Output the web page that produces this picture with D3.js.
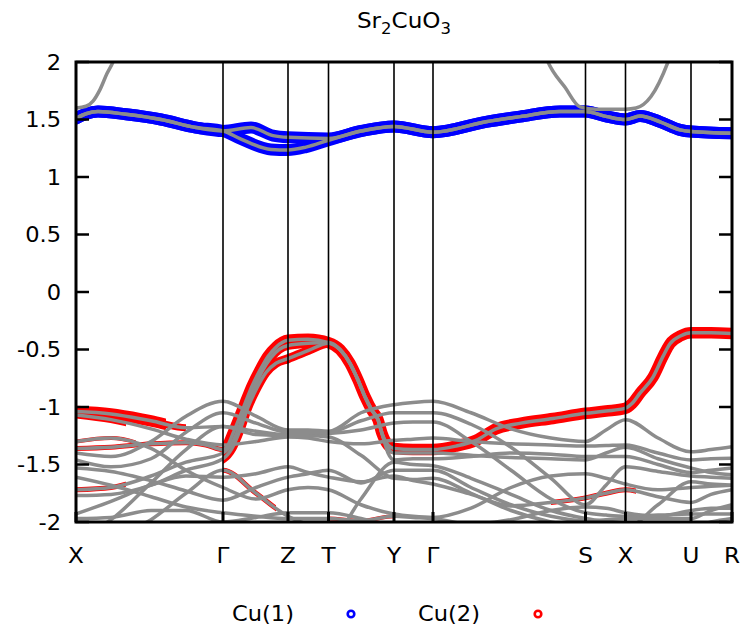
<!DOCTYPE html>
<html><head><meta charset="utf-8">
<script src="https://cdn.jsdelivr.net/npm/d3@7"></script>
<style>body{margin:0;background:#fff}svg{display:block}</style>
</head><body><svg id="c" width="741" height="630"></svg>
<script>
// ---- data ----
const kTicks  = [0, 1.47, 2.12, 2.525, 3.18, 3.57, 5.095, 5.495, 6.15, 6.56];
const kLabels = ["X", "Γ", "Z", "T", "Y", "Γ", "S", "X", "U", "R"];
const yTicks  = [-2, -1.5, -1, -0.5, 0, 0.5, 1, 1.5, 2];
const yTickLabels = ["-2", "-1.5", "-1", "-0.5", "0", "0.5", "1", "1.5", "2"];
const seriesNames = ["Cu(1)", "Cu(2)"];

// common k grid for the lower valence bands
const kGrid = [0,0.35,0.75,1.1,1.47,1.8,2.12,2.32,2.525,2.85,3.18,3.37,3.57,3.95,4.35,4.75,5.095,5.3,5.495,5.82,6.15,6.35,6.56];
const bandR1a = [-1.04,-1.06,-1.12,-1.18,-1.17,-1.21,-1.24,-1.235,-1.23,-1.20,-1.14,-1.13,-1.13,-1.30,-1.55,-1.80,-1.92,-1.94,-1.95,-1.94,-1.93,-1.93,-1.93];
const bandR1b = [-1.07,-1.11,-1.19,-1.28,-1.33,-1.30,-1.26,-1.27,-1.30,-1.32,-1.29,-1.28,-1.27,-1.30,-1.32,-1.33,-1.34,-1.335,-1.33,-1.40,-1.46,-1.45,-1.446];
const band4   = [-1.40,-1.43,-1.30,-1.08,-0.95,-1.08,-1.20,-1.20,-1.21,-1.05,-0.98,-0.96,-0.95,-1.05,-1.19,-1.27,-1.30,-1.20,-1.11,-1.27,-1.39,-1.37,-1.345];
const band5   = [-1.46,-1.52,-1.45,-1.22,-1.05,-1.14,-1.22,-1.22,-1.22,-1.12,-1.05,-1.05,-1.05,-1.15,-1.35,-1.62,-1.85,-1.68,-1.52,-1.56,-1.60,-1.61,-1.62];
const band6   = [-1.53,-1.56,-1.64,-1.73,-1.81,-1.70,-1.61,-1.58,-1.55,-1.66,-1.55,-1.55,-1.55,-1.70,-1.85,-1.95,-1.99,-1.98,-1.97,-1.97,-1.97,-1.90,-1.85];
const band7   = [-1.61,-1.68,-1.78,-1.87,-1.92,-1.95,-1.97,-1.97,-1.97,-1.99,-1.95,-1.96,-1.97,-2.02,-1.98,-1.90,-1.87,-1.88,-1.92,-1.95,-1.90,-1.88,-1.88];
const band10  = [-1.93,-1.82,-1.68,-1.60,-1.61,-1.58,-1.52,-1.57,-1.61,-1.65,-1.60,-1.64,-1.67,-1.76,-1.86,-1.83,-1.79,-1.75,-1.72,-1.78,-1.83,-1.76,-1.72];
const band11  = [-1.97,-1.96,-1.90,-1.90,-2.00,-1.96,-1.92,-1.92,-1.92,-1.97,-2.05,-2.10,-2.15,-2.20,-2.25,-2.25,-2.20,-2.22,-2.25,-2.22,-2.20,-2.20,-2.20];
const band12  = [-2.30,-2.15,-1.98,-1.75,-1.55,-1.75,-1.95,-2.02,-2.05,-2.15,-2.25,-2.30,-2.30,-2.30,-2.25,-2.20,-2.20,-2.22,-2.25,-2.25,-2.25,-2.25,-2.25];
const band13  = [-2.20,-2.20,-2.18,-2.20,-2.25,-2.30,-2.30,-2.25,-2.20,-1.80,-1.48,-1.50,-1.51,-1.62,-1.76,-1.90,-1.97,-2.00,-2.05,-1.85,-1.65,-1.67,-1.68];
const band14  = [-2.15,-1.98,-1.66,-1.37,-1.17,-1.24,-1.25,-1.25,-1.26,-1.42,-1.62,-1.63,-1.62,-1.75,-1.90,-2.00,-2.05,-2.08,-2.10,-2.07,-2.05,-2.00,-1.97];
const band15  = [-1.30,-1.27,-1.36,-1.55,-1.70,-1.80,-1.72,-1.70,-1.72,-1.85,-1.93,-1.95,-1.96,-1.88,-1.70,-1.60,-1.58,-1.62,-1.67,-1.72,-1.70,-1.69,-1.68];

// bands with their own k nodes  [k, E]
const bandH1 = [[0,-1.36],[0.35,-1.35],[0.75,-1.32],[1.1,-1.31],[1.3,-1.33],[1.47,-1.37],[1.51,-1.345],[1.57,-1.23],[1.64,-1.08],[1.69,-0.97],[1.76,-0.82],[1.84,-0.68],[1.92,-0.56],[2.0,-0.48],[2.12,-0.42],[2.32,-0.41],[2.525,-0.44],[2.64,-0.50],[2.74,-0.62],[2.82,-0.765],[2.89,-0.91],[2.96,-1.03],[3.02,-1.11],[3.06,-1.23],[3.12,-1.33],[3.18,-1.36],[3.37,-1.37],[3.57,-1.37],[3.8,-1.34],[4.0,-1.29],[4.2,-1.19],[4.45,-1.14],[4.77,-1.10],[5.095,-1.055],[5.3,-1.035],[5.495,-1.01],[5.56,-0.97],[5.64,-0.88],[5.77,-0.74],[5.87,-0.56],[5.94,-0.45],[6.05,-0.38],[6.15,-0.355],[6.35,-0.355],[6.56,-0.36]];
const bandH2 = [[0,-1.72],[0.35,-1.70],[0.75,-1.60],[1.1,-1.48],[1.47,-1.40],[1.55,-1.33],[1.62,-1.2],[1.7,-1.0],[1.78,-0.84],[1.86,-0.69],[1.95,-0.57],[2.03,-0.50],[2.12,-0.465],[2.32,-0.445],[2.525,-0.44],[2.64,-0.50],[2.74,-0.62],[2.82,-0.765],[2.89,-0.91],[2.96,-1.03],[3.02,-1.11],[3.06,-1.23],[3.12,-1.36],[3.18,-1.40],[3.37,-1.40],[3.57,-1.40],[3.95,-1.42],[4.35,-1.44],[4.75,-1.45],[5.095,-1.46],[5.3,-1.40],[5.495,-1.35],[5.82,-1.45],[6.15,-1.53],[6.35,-1.57],[6.56,-1.59]];
const bandH3 = [[0,-1.77],[0.35,-1.76],[0.75,-1.68],[1.1,-1.55],[1.47,-1.45],[1.56,-1.36],[1.64,-1.2],[1.72,-1.0],[1.8,-0.85],[1.9,-0.7],[2.0,-0.62],[2.12,-0.58],[2.32,-0.51],[2.525,-0.445],[2.64,-0.50],[2.74,-0.62],[2.82,-0.765],[2.89,-0.91],[2.96,-1.03],[3.02,-1.11],[3.06,-1.23],[3.12,-1.40],[3.18,-1.46],[3.37,-1.45],[3.57,-1.45],[3.95,-1.43],[4.35,-1.40],[4.75,-1.41],[5.095,-1.43],[5.3,-1.43],[5.495,-1.43],[5.82,-1.50],[6.15,-1.57],[6.35,-1.55],[6.56,-1.53]];
const bandB1 = [[0,1.51],[0.1,1.55],[0.22,1.57],[0.5,1.545],[0.85,1.50],[1.2,1.43],[1.47,1.40],[1.75,1.43],[1.97,1.36],[2.12,1.345],[2.525,1.335],[2.85,1.40],[3.18,1.44],[3.57,1.39],[4.1,1.48],[4.44,1.525],[4.84,1.57],[5.095,1.57],[5.31,1.525],[5.495,1.50],[5.64,1.53],[5.84,1.48],[6.04,1.41],[6.15,1.395],[6.56,1.38]];
const bandB2 = [[0,1.51],[0.1,1.55],[0.22,1.57],[0.5,1.545],[0.85,1.50],[1.2,1.43],[1.47,1.40],[1.65,1.33],[1.95,1.24],[2.12,1.235],[2.3,1.26],[2.525,1.32],[2.85,1.40],[3.18,1.44],[3.57,1.39],[4.1,1.48],[4.44,1.525],[4.84,1.57],[5.095,1.57],[5.31,1.525],[5.495,1.50],[5.64,1.53],[5.84,1.48],[6.04,1.41],[6.15,1.395],[6.56,1.38]];
const bandU1 = [[0,1.60],[0.1,1.615],[0.17,1.66],[0.24,1.76],[0.31,1.90],[0.37,2.0],[0.5,2.35]];
const bandU2 = [[4.55,2.45],[4.72,2.0],[4.89,1.78],[5.04,1.61],[5.2,1.59],[5.495,1.59],[5.6,1.60],[5.75,1.70],[5.92,2.0],[6.1,2.5]];

// orbital-weight highlights: [band, kFrom, kTo, weight]
const cu1Weights = [["B1",0,6.56,12],["B2",0,6.56,12]];
const cu2Weights = [["H1",1.47,6.56,11.5],["H1",0,1.47,5],["H2",1.47,2.525,9],["H3",1.47,2.525,9],
  ["R1a",0,0.9,11.5],["R1a",0.9,1.1,7],["R1b",0,0.5,7],["H2",0,0.5,5],["b12",1.47,2.0,5],["b7",2.525,3.18,4],["b10",4.75,5.6,5],["b15",0,0.6,4]];

// ---- build ----
const gridBands = {R1a:bandR1a,R1b:bandR1b,b4:band4,b5:band5,b6:band6,b7:band7,b10:band10,b11:band11,b12:band12,b13:band13,b14:band14,b15:band15};
const bands = {};
Object.entries(gridBands).forEach(([n,v]) => bands[n] = kGrid.map((k,i)=>[k,v[i]]));
Object.assign(bands,{H1:bandH1,H2:bandH2,H3:bandH3,B1:bandB1,B2:bandB2,U1:bandU1,U2:bandU2});

const W=741,H=630, L=76, R=732, T=62, B=522;
const x = d3.scaleLinear().domain([0,6.56]).range([L,R]);
const y = d3.scaleLinear().domain([-2,2]).range([B,T]);
const svg = d3.select("#c");
const FONT = "DejaVu Sans";
const line = d3.line().x(d=>x(d[0])).y(d=>y(d[1])).curve(d3.curveMonotoneX);

const defs = svg.append("defs");
defs.append("clipPath").attr("id","plot").append("rect").attr("x",L).attr("y",T).attr("width",R-L).attr("height",B-T);
const plot = svg.append("g").attr("clip-path","url(#plot)");

function drawWeights(list, color, prefix){
  list.forEach((w,i)=>{
    const id = prefix+i;
    defs.append("clipPath").attr("id",id).append("rect")
      .attr("x",x(w[1])).attr("y",0).attr("width",x(w[2])-x(w[1])).attr("height",H);
    plot.append("g").attr("clip-path",`url(#${id})`).append("path")
      .attr("d",line(bands[w[0]])).attr("fill","none").attr("stroke",color)
      .attr("stroke-width",w[3]).attr("stroke-linejoin","round").attr("stroke-linecap","round");
  });
}
drawWeights(cu1Weights,"#0000ff","cu1w");
drawWeights(cu2Weights,"#ff0000","cu2w");

Object.keys(bands).forEach(n=>{
  plot.append("path").attr("d",line(bands[n])).attr("fill","none")
    .attr("stroke","#8c8c8c").attr("stroke-width",3.5).attr("stroke-linejoin","round");
});

// vertical high-symmetry lines
svg.append("g").selectAll("line").data(kTicks.slice(1,-1)).join("line")
  .attr("x1",d=>x(d)).attr("x2",d=>x(d)).attr("y1",T).attr("y2",B)
  .attr("stroke","#000").attr("stroke-width",1.6);
// bottom ticks
svg.append("g").selectAll("line").data(kTicks).join("line")
  .attr("x1",d=>x(d)).attr("x2",d=>x(d)).attr("y1",B).attr("y2",B-10)
  .attr("stroke","#000").attr("stroke-width",3);
// y ticks both sides
svg.append("g").selectAll("line").data(yTicks).join("line")
  .attr("x1",L).attr("x2",L+13).attr("y1",d=>y(d)).attr("y2",d=>y(d)).attr("stroke","#000").attr("stroke-width",2.5);
svg.append("g").selectAll("line").data(yTicks).join("line")
  .attr("x1",R-13).attr("x2",R).attr("y1",d=>y(d)).attr("y2",d=>y(d)).attr("stroke","#000").attr("stroke-width",2.5);
// border
svg.append("rect").attr("x",L).attr("y",T).attr("width",R-L).attr("height",B-T)
  .attr("fill","none").attr("stroke","#000").attr("stroke-width",3);

function txt(px,py,str,anchor,size){
  return svg.append("text").attr("transform",`translate(${px},${py}) scale(1.1,1)`)
    .attr("text-anchor",anchor).style("font-family",FONT).style("font-size",size+"px")
    .attr("fill","#000").text(str);
}
yTicks.forEach((t,i)=>txt(61,y(t)+7.5,yTickLabels[i],"end",20.5));
kTicks.forEach((k,i)=>txt(x(k),563,kLabels[i],"middle",21));

// title
const tt = svg.append("text").attr("transform","translate(404,28) scale(1.1,1)").attr("text-anchor","middle")
  .style("font-family",FONT).style("font-size","21px");
tt.append("tspan").text("Sr");
tt.append("tspan").attr("dy",6).style("font-size","15px").text("2");
tt.append("tspan").attr("dy",-6).text("CuO");
tt.append("tspan").attr("dy",6).style("font-size","15px").text("3");

// legend
const legendX = [232, 418], legendDot = [351, 538], legendCol = ["#0000ff","#ff0000"];
seriesNames.forEach((s,i)=>{
  txt(legendX[i],621,s,"start",20.5);
  svg.append("circle").attr("cx",legendDot[i]).attr("cy",614).attr("r",3.3)
    .attr("fill","#fff").attr("stroke",legendCol[i]).attr("stroke-width",2.6);
});
</script></body></html>
